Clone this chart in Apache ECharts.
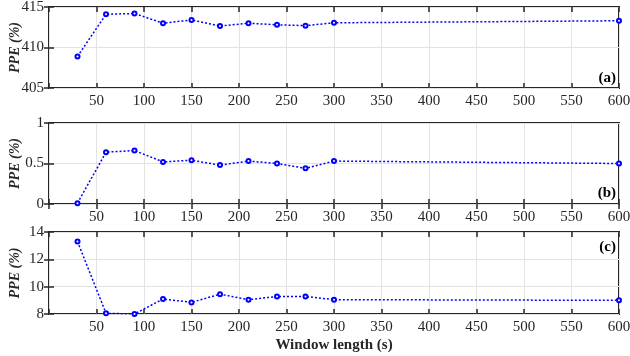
<!DOCTYPE html>
<html>
<head>
<meta charset="utf-8">
<script src="https://cdn.jsdelivr.net/npm/echarts@6/dist/echarts.min.js"></script>
<style>
  html, body { margin: 0; padding: 0; background: #fff; }
  #chart { width: 630px; height: 356px; }
</style>
</head>
<body>
<div id="chart"></div>
<script>
// window length (s) and PPE (%) for the three panels
const windowLen = [30, 60, 90, 120, 150, 180, 210, 240, 270, 300, 600];
const ppeA = [408.9, 414.1, 414.2, 413.0, 413.4, 412.65, 413.0, 412.8, 412.7, 413.05, 413.3];
const ppeB = [0.01, 0.64, 0.66, 0.52, 0.54, 0.48, 0.53, 0.50, 0.44, 0.53, 0.50];
const ppeC = [13.3, 8.05, 8.0, 9.1, 8.85, 9.45, 9.05, 9.28, 9.28, 9.05, 9.0];
const yRanges = [[405, 415, 5], [0, 1, 0.5], [8, 14, 2]];
const panelTags = ['(a)', '(b)', '(c)'];

const font = '"Liberation Serif", "Times New Roman", serif';
const axisCol = '#262626';

const chart = echarts.init(document.getElementById('chart'));

const grids = [
  { left: 49, right: 11, top: 7, height: 81 },
  { left: 49, right: 11, top: 123, height: 81 },
  { left: 49, right: 11, top: 232, height: 82 },
].map(g => Object.assign(g, {
  show: true, borderColor: axisCol, borderWidth: 2, backgroundColor: 'transparent',
  containLabel: false, outerBoundsMode: 'none',
}));

const xAxes = [];
const yAxes = [];
const series = [];
const datasets = [ppeA, ppeB, ppeC];

grids.forEach((g, i) => {
  const xBase = {
    type: 'value', gridIndex: i, min: 0, max: 600, interval: 50,
    axisLine: { show: false },
    axisTick: { show: true, inside: true, length: 5, lineStyle: { color: axisCol, width: 1.5 } },
  };
  xAxes.push(Object.assign({}, xBase, {
    position: 'bottom',
    splitLine: { show: true, lineStyle: { color: '#e3e3e3', width: 1 } },
    axisLabel: {
      color: axisCol, fontFamily: font, fontSize: 15, margin: 6,
      formatter: v => (v === 0 ? '' : String(v)),
    },
    name: i === 2 ? 'Window length (s)' : '',
    nameLocation: 'middle', nameGap: 24, nameMoveOverlap: false,
    nameTextStyle: { color: axisCol, fontFamily: font, fontSize: 15, fontWeight: 'bold' },
  }));
  xAxes.push(Object.assign({}, xBase, {
    position: 'top', splitLine: { show: false }, axisLabel: { show: false },
  }));

  const [ymin, ymax, yint] = yRanges[i];
  const yBase = {
    type: 'value', gridIndex: i, min: ymin, max: ymax, interval: yint,
    axisLine: { show: false },
    axisTick: { show: true, inside: true, length: 5, lineStyle: { color: axisCol, width: 1.5 } },
  };
  yAxes.push(Object.assign({}, yBase, {
    position: 'left',
    splitLine: { show: true, lineStyle: { color: '#e3e3e3', width: 1 } },
    axisLabel: { color: axisCol, fontFamily: font, fontSize: 15, margin: 5 },
    name: 'PPE (%)', nameLocation: 'middle', nameGap: 27, nameMoveOverlap: false,
    nameTextStyle: { color: axisCol, fontFamily: font, fontSize: 14, fontWeight: 'bold', fontStyle: 'italic' },
  }));
  yAxes.push(Object.assign({}, yBase, {
    position: 'right', splitLine: { show: false }, axisLabel: { show: false },
  }));

  series.push({
    type: 'line',
    xAxisIndex: 2 * i,
    yAxisIndex: 2 * i,
    data: windowLen.map((x, k) => [x, datasets[i][k]]),
    symbol: 'emptyCircle',
    symbolSize: 4,
    itemStyle: { color: '#0000ff', borderWidth: 1.5 },
    lineStyle: { color: '#0000ff', width: 1.5, type: [2, 2] },
    animation: false,
  });
});

const tagPos = [{ right: 14, top: 71 }, { right: 14, top: 186 }, { right: 14, top: 240 }];
const graphic = panelTags.map((t, i) => ({
  type: 'text', right: tagPos[i].right, top: tagPos[i].top,
  style: { text: t, fill: '#000', font: 'bold 15px ' + font },
}));

chart.setOption({
  animation: false,
  grid: grids,
  xAxis: xAxes,
  yAxis: yAxes,
  series: series,
  graphic: graphic,
});
</script>
</body>
</html>
